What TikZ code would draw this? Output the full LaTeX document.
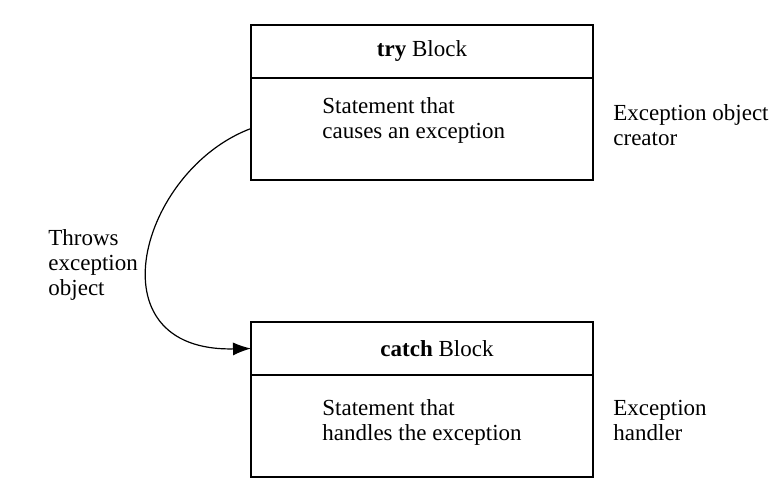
\documentclass[tikz,border=0pt]{standalone}
\usepackage{fontspec}
\setmainfont{Liberation Serif}
\usetikzlibrary{positioning, arrows.meta}

\begin{document}
\begin{tikzpicture}[
        x=0.5pt, y=-0.5pt,
        font=\fontsize{11.5}{12.5}\selectfont,
        head/.style={rectangle, draw, line width=1pt, outer sep=0pt, minimum width=171pt, minimum height=26.5pt, inner sep=0pt},
        body/.style={rectangle, draw, line width=1pt, outer sep=0pt, minimum width=171pt, minimum height=51pt, inner sep=0pt},
        note/.style={align=left, inner sep=0pt, anchor=west},
        arrow/.style={-{Latex[length=9pt, width=6.5pt]}, line width=0.6pt}
    ]
        \useasboundingbox (0,0) rectangle (784,489);

        \node[head] (tryhead) at (422,51) {\textbf{try} Block};
        \node[body, below=0pt of tryhead] (trybody) {};
        \node[note] (trytext) at (322,120) {Statement that\\causes an exception};

        \node[head] (catchhead) at (422,348.5) {\hspace*{15pt}\textbf{catch} Block};
        \node[body, below=0pt of catchhead] (catchbody) {};
        \node[note] (catchtext) at (322,422) {Statement that\\handles the exception};

        \node[note] (creator) at (613,125) {Exception object\\creator};
        \node[note] (handler) at (613,420) {Exception\\handler};
        \node[note] (throws) at (48,265) {Throws\\exception\\object};

        \draw[arrow] (trybody.west) .. controls (140,170) and (90,352) .. (catchhead.west);

    \end{tikzpicture}
\end{document}
